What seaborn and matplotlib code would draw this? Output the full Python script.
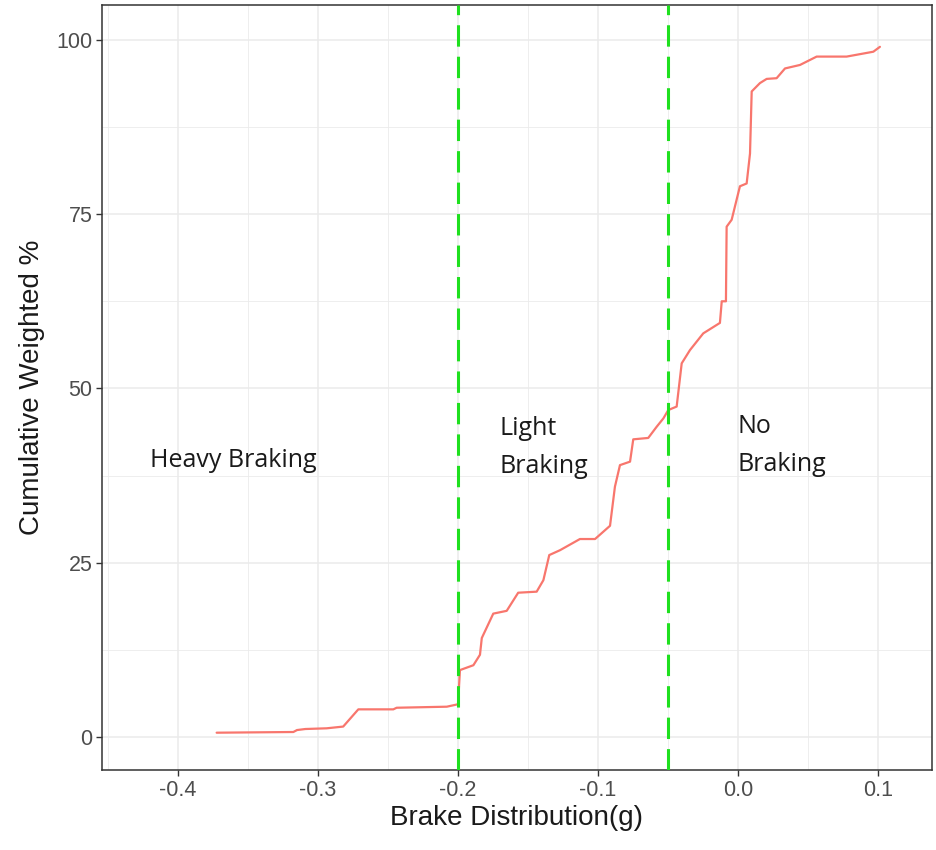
import matplotlib
matplotlib.use("Agg")
import matplotlib.pyplot as plt
from matplotlib.ticker import MultipleLocator
import seaborn as sns
import pandas as pd

# Cumulative weighted share of braking events by deceleration (g)
brake_g = [-0.3724, -0.3176, -0.315, -0.309, -0.2938, -0.282, -0.2712, -0.2462,
           -0.2438, -0.208, -0.2000, -0.1986, -0.189, -0.1843, -0.183, -0.1748,
           -0.1652, -0.157, -0.1438, -0.139, -0.1348, -0.1271, -0.1129, -0.1021,
           -0.0914, -0.0879, -0.0843, -0.0771, -0.0748, -0.0641, -0.0581, -0.0533,
           -0.0498, -0.0438, -0.0402, -0.0343, -0.0248, -0.0129, -0.0116, -0.0086,
           -0.0081, -0.0045, 0.0014, 0.0062, 0.0086, 0.0098, 0.0157, 0.0205,
           0.0276, 0.0336, 0.0443, 0.0562, 0.0776, 0.0967, 0.1014]
cum_pct = [0.62, 0.72, 1.0, 1.15, 1.25, 1.5, 3.97, 3.97,
           4.2, 4.35, 4.7, 9.6, 10.3, 11.8, 14.2, 17.7,
           18.1, 20.7, 20.85, 22.5, 26.1, 26.8, 28.4, 28.4,
           30.3, 35.9, 39.0, 39.5, 42.7, 42.9, 44.5, 45.7,
           46.9, 47.4, 53.6, 55.5, 57.9, 59.4, 62.5, 62.5,
           73.2, 74.2, 79.0, 79.4, 83.7, 92.6, 93.8, 94.4,
           94.5, 95.9, 96.4, 97.6, 97.6, 98.3, 99.0]

# Region thresholds and labels
thresholds = [-0.2, -0.05]
region_labels = ["Heavy Braking", "Light\nBraking", "No\nBraking"]
region_x = [-0.42, -0.17, 0.0]
region_y = [39.7, 41.5, 41.8]

x_ticks = [-0.4, -0.3, -0.2, -0.1, 0.0, 0.1]
y_ticks = [0, 25, 50, 75, 100]

df = pd.DataFrame({"brake": brake_g, "pct": cum_pct})

sns.set_theme(style="white")
plt.rcParams["font.family"] = ["Liberation Sans", "DejaVu Sans"]

fig = plt.figure(figsize=(9.37, 8.5), dpi=100)
ax = fig.add_axes([102 / 937, 1 - 770 / 850, (932 - 102) / 937, (770 - 5) / 850])

# grid (major + minor)
grid_col = "#EBEBEB"
ax.set_axisbelow(True)
ax.xaxis.set_minor_locator(MultipleLocator(0.05))
ax.yaxis.set_minor_locator(MultipleLocator(12.5))
ax.grid(True, which="major", color=grid_col, linewidth=1.1)
ax.grid(True, which="minor", color=grid_col, linewidth=0.6)

sns.lineplot(data=df, x="brake", y="pct", estimator=None, sort=False,
             color="#F8766D", linewidth=1.6, ax=ax)

for t in thresholds:
    ax.axvline(t, color="#1FE01F", linewidth=2.2, dashes=(7, 3.3), zorder=3)

for lab, lx, ly in zip(region_labels, region_x, region_y):
    ax.text(lx, ly, lab, ha="left", va="center", fontsize=18,
            family=["Open Sans", "DejaVu Sans"], color="#1A1A1A", linespacing=1.7)

ax.set_xlim(-0.4543, 0.1386)
ax.set_ylim(-4.73, 105.0)
ax.set_xticks(x_ticks)
ax.set_xticklabels([f"{v:.1f}" for v in x_ticks])
ax.set_yticks(y_ticks)
ax.set_yticklabels([str(v) for v in y_ticks])

ax.tick_params(axis="both", which="major", direction="out", length=4, width=1,
               color="#333333", labelsize=15.5, labelcolor="#4D4D4D", pad=3,
               bottom=True, left=True)
ax.tick_params(axis="both", which="minor", length=0)

for s in ax.spines.values():
    s.set_color("#333333")
    s.set_linewidth(1.1)

ax.set_xlabel("Brake Distribution(g)", fontsize=20, color="#1A1A1A", labelpad=3)
ax.set_ylabel("Cumulative Weighted %", fontsize=20, color="#1A1A1A", labelpad=8)

fig.savefig("out.png", dpi=100)
